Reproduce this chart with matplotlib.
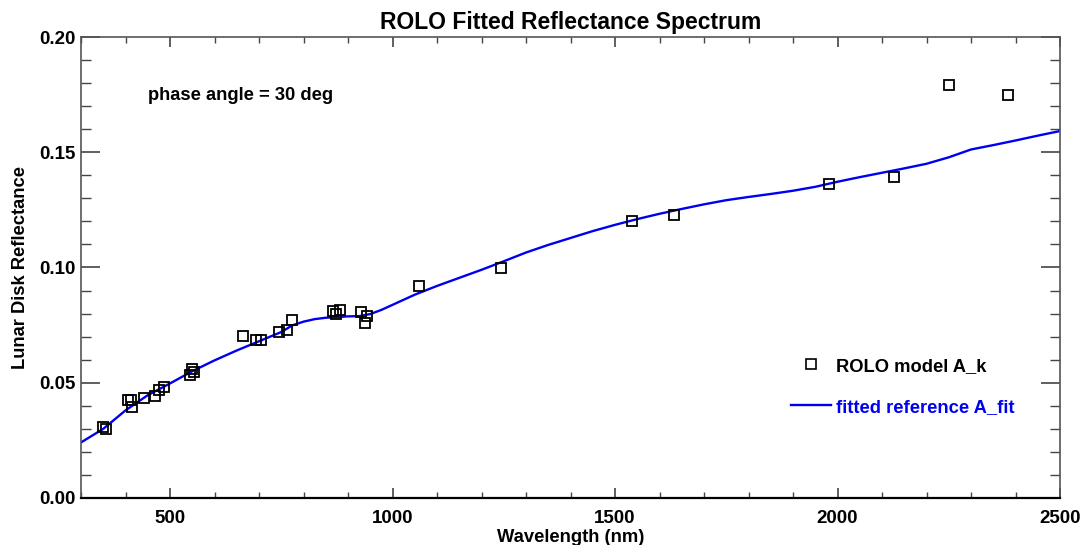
import matplotlib
matplotlib.use("Agg")
import matplotlib.pyplot as plt
from matplotlib.ticker import MultipleLocator, FormatStrFormatter
from matplotlib.lines import Line2D

plt.rcParams['font.family'] = ['Liberation Sans', 'DejaVu Sans']
plt.rcParams['font.weight'] = 'bold'

# ROLO model points
rolo_wl = [350.0, 355.1, 405.0, 412.3, 414.4, 441.6, 465.8, 475.0, 486.9,
           544.0, 549.1, 553.8, 665.1, 693.1, 703.6, 745.3, 763.7, 774.8,
           865.3, 872.6, 882.0, 928.4, 939.3, 942.1, 1059.5, 1243.2, 1538.7,
           1633.6, 1981.5, 2126.3, 2250.9, 2383.6]
rolo_refl = [0.0308, 0.0301, 0.0424, 0.0427, 0.0393, 0.0434, 0.0444, 0.0470, 0.0480,
             0.0535, 0.0558, 0.0545, 0.0701, 0.0684, 0.0684, 0.0722, 0.0729, 0.0771,
             0.0810, 0.0800, 0.0816, 0.0808, 0.0758, 0.0790, 0.0918, 0.0997, 0.1202,
             0.1228, 0.1363, 0.1393, 0.1792, 0.1747]

# fitted reference curve
fit_wl = [300, 350, 400, 450, 500, 550, 600, 650, 700, 750, 775, 800, 825, 850, 875,
          900, 925, 950, 975, 1000, 1050, 1100, 1150, 1200, 1250, 1300, 1350, 1400,
          1450, 1500, 1550, 1600, 1650, 1700, 1750, 1800, 1850, 1900, 1950, 2000,
          2050, 2100, 2150, 2200, 2250, 2300, 2350, 2400, 2450, 2500]
fit_refl = [0.0241, 0.0300, 0.0380, 0.0446, 0.0497, 0.0550, 0.0597, 0.0640, 0.0680,
            0.0720, 0.0749, 0.0765, 0.0776, 0.0782, 0.0785, 0.0788, 0.0789, 0.0798,
            0.0816, 0.0838, 0.0882, 0.0920, 0.0955, 0.0990, 0.1027, 0.1065, 0.1098,
            0.1128, 0.1158, 0.1185, 0.1210, 0.1233, 0.1254, 0.1274, 0.1292, 0.1306,
            0.1319, 0.1333, 0.1350, 0.1372, 0.1392, 0.1411, 0.1430, 0.1450, 0.1478,
            0.1512, 0.1531, 0.1551, 0.1572, 0.1592]

title = "ROLO Fitted Reflectance Spectrum"
xlabel = "Wavelength (nm)"
ylabel = "Lunar Disk Reflectance"
annotation = "phase angle = 30 deg"
label_points = "ROLO model A_k"
label_fit = "fitted reference A_fit"

fig = plt.figure(figsize=(10.82, 5.45), dpi=100)
ax = fig.add_axes([81/1082, 47/545, 979/1082, 461/545])

ax.plot(fit_wl, fit_refl, color='#0000f0', lw=1.7, zorder=2)
ax.plot(rolo_wl, rolo_refl, linestyle='none', marker='s', markersize=7.2,
        markerfacecolor='none', markeredgecolor='black', markeredgewidth=1.3, zorder=3)

ax.set_xlim(300, 2500)
ax.set_ylim(0, 0.20)
ax.xaxis.set_major_locator(MultipleLocator(500))
ax.xaxis.set_minor_locator(MultipleLocator(100))
ax.yaxis.set_major_locator(MultipleLocator(0.05))
ax.yaxis.set_minor_locator(MultipleLocator(0.01))
ax.yaxis.set_major_formatter(FormatStrFormatter('%.2f'))

ax.tick_params(axis='x', which='major', direction='in', length=7, width=1.2,
               top=True, bottom=True, labelsize=13.5, pad=8.5, colors='#444444', labelcolor='black')
ax.tick_params(axis='x', which='minor', direction='in', length=4, width=1.0,
               top=True, bottom=True, colors='#444444')
ax.tick_params(axis='y', which='major', direction='in', length=14, width=1.2,
               left=True, right=True, labelsize=13.5, pad=4, colors='#444444', labelcolor='black')
ax.tick_params(axis='y', which='minor', direction='in', length=7.5, width=1.0,
               left=True, right=True, colors='#444444')
for lab in ax.get_xticklabels() + ax.get_yticklabels():
    lab.set_fontweight('bold')

for side in ['top', 'left', 'right']:
    ax.spines[side].set_color('#555555')
    ax.spines[side].set_linewidth(1.2)
ax.spines['bottom'].set_color('black')
ax.spines['bottom'].set_linewidth(1.6)

ax.set_title(title, fontsize=16.5, fontweight='bold', pad=6)
ax.set_xlabel(xlabel, fontsize=13.2, fontweight='bold', labelpad=1.5)
ax.set_ylabel(ylabel, fontsize=13.2, fontweight='bold', labelpad=7)

ax.text(0.068, 0.874, annotation, transform=ax.transAxes, fontsize=13.2,
        fontweight='bold', va='center', ha='left')

handles = [Line2D([], [], linestyle='none', marker='s', markersize=7.2, markerfacecolor='none',
                  markeredgecolor='black', markeredgewidth=1.2),
           Line2D([], [], color='#0000f0', lw=1.7)]
leg = ax.legend(handles, [label_points, label_fit], loc='upper left',
                bbox_to_anchor=(0.708, 0.34), frameon=False, fontsize=13.2,
                handlelength=2.2, handletextpad=0.3, labelspacing=1.3,
                labelcolor=['black', '#0000f0'])
for t in leg.get_texts():
    t.set_fontweight('bold')

fig.savefig('out.png', dpi=100)
